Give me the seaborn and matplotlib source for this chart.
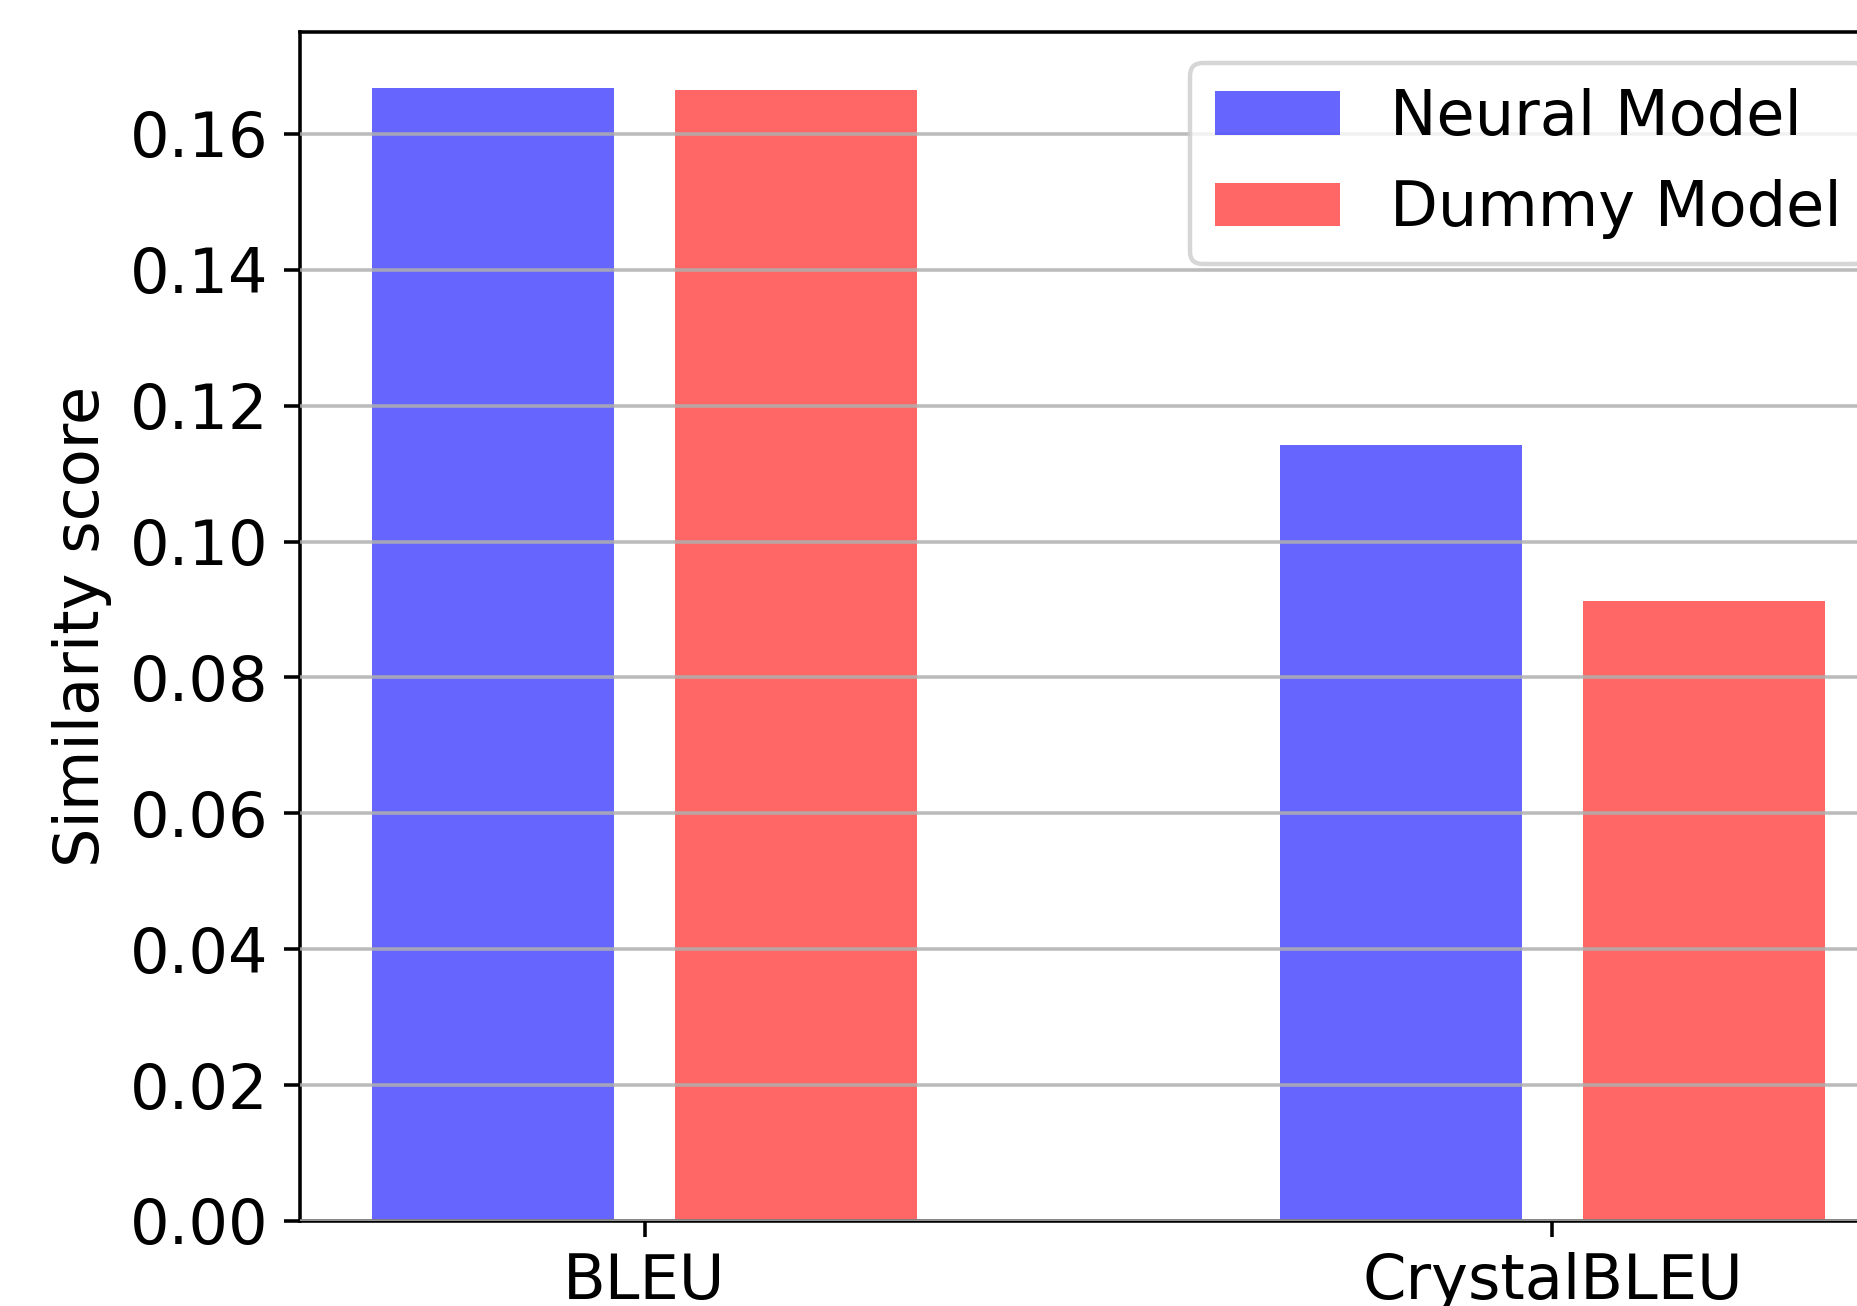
import numpy as np
import pandas as pd
import matplotlib
matplotlib.use("Agg")
import matplotlib.pyplot as plt
import seaborn as sns

# data
metrics = ["BLEU", "CrystalBLEU"]
neural_scores = [0.1667, 0.1142]
dummy_scores = [0.1665, 0.0913]
models = ["Neural Model", "Dummy Model"]

df = pd.DataFrame({
    "metric": metrics * 2,
    "score": neural_scores + dummy_scores,
    "model": [models[0]] * len(metrics) + [models[1]] * len(metrics),
})

plt.rcParams["font.family"] = ["DejaVu Sans"]
plt.rcParams["font.size"] = 14

dpi = 320
fig = plt.figure(figsize=(1857 / dpi, 1306 / dpi), dpi=dpi)
# axes runs past the right edge of the figure, like the cropped original
ax = fig.add_axes([0.1613, 0.0651, 0.8604, 0.9104])

sns.barplot(data=df, x="metric", y="score", hue="model", hue_order=models,
            palette=["blue", "red"], alpha=0.6, width=0.667, gap=0.2,
            saturation=1, ax=ax)

ax.set_xlim(-0.38, 1.38)
ax.set_ylim(0, 0.175)
ax.set_yticks(np.arange(0, 0.17, 0.02))
ax.set_yticklabels(["%.2f" % v for v in np.arange(0, 0.17, 0.02)])
ax.set_xlabel("")
ax.set_ylabel("Similarity score", fontsize=14)
ax.tick_params(labelsize=14)
# grid sits on top of the bars in the original
ax.set_axisbelow(False)
ax.yaxis.grid(True, color="#b0b0b0", linewidth=0.8, alpha=0.85)

sns.move_legend(ax, "upper right", title=None, fontsize=14, frameon=True)
for h in ax.get_legend().legend_handles:
    h.set_alpha(0.6)

plt.savefig("out.png", dpi=dpi)
